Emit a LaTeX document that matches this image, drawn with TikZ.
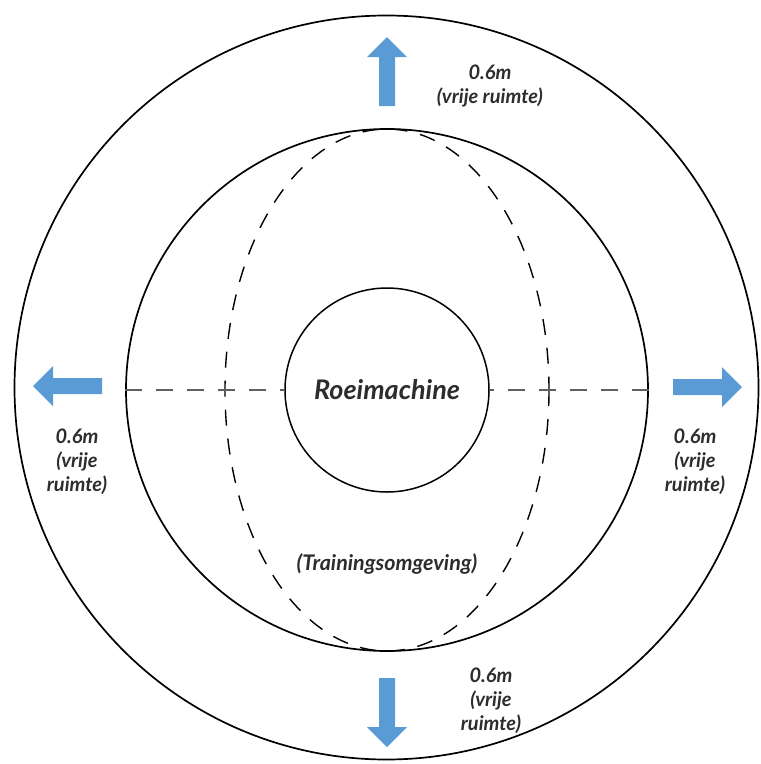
\documentclass[tikz,border=0pt]{standalone}
\usepackage{fontspec}
\setmainfont{Lato}
\definecolor{arrowblue}{RGB}{91,155,213}
\definecolor{labelgray}{RGB}{45,45,45}
\definecolor{axisgray}{RGB}{95,95,95}
\begin{document}
\begin{tikzpicture}[x=1pt,y=-1pt,
  ring/.style={draw=black, circle, inner sep=0pt, line width=1.7pt},
  lbl/.style={font=\fontsize{20}{24}\selectfont\bfseries\itshape, text=labelgray, align=center, inner sep=0pt},
  axis/.style={draw=axisgray, line width=2.3pt, dash pattern=on 17pt off 14pt},
  area/.style={draw=black, line width=1.4pt, dash pattern=on 16pt off 13pt},
  blockarrow/.pic={\fill[arrowblue] (0,-8) -- (49,-8) -- (49,-20) -- (69,0) -- (49,20) -- (49,8) -- (0,8) -- cycle;}]
  \useasboundingbox (0,0) rectangle (761,764);

  % free-space ring, rowing zone and the machine itself
  \node[ring, minimum size=744pt] (clearance) at (386.5,387.5) {};
  \node[ring, minimum size=522pt] (zone) at (387,390) {};
  \node[ring, line width=1.5pt, minimum size=204pt,
        font=\fontsize{27}{32}\selectfont\bfseries\itshape, text=labelgray] (machine) at (387,390) {Roeimachine};

  % training area outline
  \draw[area] (387,390) ellipse [x radius=162, y radius=261];

  % rowing axis
  \draw[axis] (zone.west) -- (machine.west);
  \draw[axis] (zone.east) -- (machine.east);

  \node[lbl, font=\fontsize{21.5}{26}\selectfont\bfseries\itshape] (area) at (387,564) {(Trainingsomgeving)};

  % outward arrows into the free space
  \pic[rotate=90] at (387,106) {blockarrow};
  \pic[rotate=-90] at (387,678) {blockarrow};
  \pic[rotate=180] at (102,386) {blockarrow};
  \pic at (673,387) {blockarrow};

  % free-space labels
  \node[lbl] (top) at (490,86) {0.6m\\(vrije ruimte)};
  \node[lbl] (left) at (77,462) {0.6m\\(vrije\\ruimte)};
  \node[lbl] (right) at (695,462) {0.6m\\(vrije\\ruimte)};
  \node[lbl] (bottom) at (491,701) {0.6m\\(vrije\\ruimte)};
\end{tikzpicture}
\end{document}
